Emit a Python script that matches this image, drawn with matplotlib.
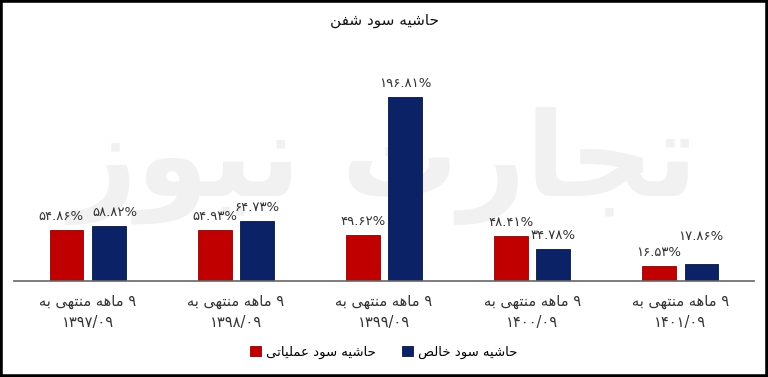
import numpy as np
import matplotlib
matplotlib.use("Agg")
import matplotlib.pyplot as plt
from matplotlib.patches import Rectangle

# داده‌ها
periods = ["۱۳۹۷/۰۹", "۱۳۹۸/۰۹", "۱۳۹۹/۰۹", "۱۴۰۰/۰۹", "۱۴۰۱/۰۹"]
operating_margin = [54.86, 54.93, 49.62, 48.41, 16.53]
net_margin = [58.82, 64.73, 196.81, 34.78, 17.86]
operating_labels = ["۵۴.۸۶%", "۵۴.۹۳%", "۴۹.۶۲%", "۴۸.۴۱%", "۱۶.۵۳%"]
net_labels = ["۵۸.۸۲%", "۶۴.۷۳%", "۱۹۶.۸۱%", "۳۴.۷۸%", "۱۷.۸۶%"]
period_prefix = "۹ ماهه منتهی به"
title = "حاشیه سود شفن"
legend_names = ["حاشیه سود عملیاتی", "حاشیه سود خالص"]
watermark = "تجارت نیوز"

# اشکال حروف (تنها، پایانی، آغازی، میانی)
FORMS = {
    "ا": ("\uFE8D", "\uFE8E", None, None),
    "ب": ("\uFE8F", "\uFE90", "\uFE91", "\uFE92"),
    "ت": ("\uFE95", "\uFE96", "\uFE97", "\uFE98"),
    "ج": ("\uFE9D", "\uFE9E", "\uFE9F", "\uFEA0"),
    "ح": ("\uFEA1", "\uFEA2", "\uFEA3", "\uFEA4"),
    "خ": ("\uFEA5", "\uFEA6", "\uFEA7", "\uFEA8"),
    "د": ("\uFEA9", "\uFEAA", None, None),
    "ر": ("\uFEAD", "\uFEAE", None, None),
    "ز": ("\uFEAF", "\uFEB0", None, None),
    "س": ("\uFEB1", "\uFEB2", "\uFEB3", "\uFEB4"),
    "ش": ("\uFEB5", "\uFEB6", "\uFEB7", "\uFEB8"),
    "ص": ("\uFEB9", "\uFEBA", "\uFEBB", "\uFEBC"),
    "ع": ("\uFEC9", "\uFECA", "\uFECB", "\uFECC"),
    "ف": ("\uFED1", "\uFED2", "\uFED3", "\uFED4"),
    "ل": ("\uFEDD", "\uFEDE", "\uFEDF", "\uFEE0"),
    "م": ("\uFEE1", "\uFEE2", "\uFEE3", "\uFEE4"),
    "ن": ("\uFEE5", "\uFEE6", "\uFEE7", "\uFEE8"),
    "ه": ("\uFEE9", "\uFEEA", "\uFEEB", "\uFEEC"),
    "و": ("\uFEED", "\uFEEE", None, None),
    "ی": ("\uFEEF", "\uFEF0", "\uFEF3", "\uFEF4"),
}


def shape_word(word):
    if not any(c in FORMS for c in word):
        return word
    out = []
    for i, c in enumerate(word):
        if c not in FORMS:
            out.append(c)
            continue
        prev = word[i - 1] if i > 0 else None
        nxt = word[i + 1] if i < len(word) - 1 else None
        jp = prev in FORMS and FORMS[prev][2] is not None
        jn = nxt in FORMS and FORMS[c][2] is not None
        iso, fin, ini, med = FORMS[c]
        if jp and jn:
            out.append(med)
        elif jp:
            out.append(fin)
        elif jn:
            out.append(ini)
        else:
            out.append(iso)
    return "".join(reversed(out))


def fa(text):
    # راست به چپ: ترتیب کلمات برعکس می‌شود
    words = [shape_word(w) for w in text.split(" ")]
    return " ".join(words[::-1])


plt.rcParams["font.family"] = ["DejaVu Sans"]

red = "#C00000"
navy = "#0B2266"

fig = plt.figure(figsize=(7.68, 3.77), dpi=100)
ax = fig.add_axes([0.018, 0.2546, 0.964, 0.612])

x = np.arange(len(periods))
w = 0.225
off = 0.142

# واترمارک
ax.text(0.5, 0.50, fa(watermark), transform=ax.transAxes,
        ha="center", va="center", fontsize=84, fontweight="bold",
        color="#f1f1f1", zorder=0)

b1 = ax.bar(x - off, operating_margin, w, color=red, edgecolor="#8a0000", linewidth=0.6, zorder=2)
b2 = ax.bar(x + off, net_margin, w, color=navy, edgecolor="#061540", linewidth=0.6, zorder=2)

for r1, r2, l1, l2 in zip(b1, b2, operating_labels, net_labels):
    h1, h2 = r1.get_height(), r2.get_height()
    dx, dy = 0, 0
    # جلوگیری از هم‌پوشانی برچسب‌ها
    if abs(h1 - h2) < 2:
        dy = 10
    elif abs(h1 - h2) < 8:
        dx = 4
    ax.annotate(l1, (r1.get_x() + r1.get_width() / 2, h1),
                xytext=(-dx, 5), textcoords="offset points", ha="center", va="bottom",
                fontsize=9.5, color="#333333", zorder=3)
    ax.annotate(l2, (r2.get_x() + r2.get_width() / 2, h2),
                xytext=(dx, 5 + dy), textcoords="offset points", ha="center", va="bottom",
                fontsize=9.5, color="#333333", zorder=3)

ax.set_xlim(-0.5, len(periods) - 0.5)
ax.set_ylim(0, 247)
ax.set_yticks([])
ax.set_xticks(x)
ax.set_xticklabels([fa(period_prefix) + "\n" + p for p in periods],
                   fontsize=10.5, color="#333333", linespacing=1.5)
ax.tick_params(axis="x", length=0, pad=9)
for s in ["top", "right", "left"]:
    ax.spines[s].set_visible(False)
ax.spines["bottom"].set_color("#666666")
ax.spines["bottom"].set_linewidth(1.2)

fig.suptitle(fa(title), y=0.965, fontsize=11, color="#111111")

ax.legend([b1, b2], [fa(n) for n in legend_names], loc="center",
          bbox_to_anchor=(0.5, 0.065), bbox_transform=fig.transFigure,
          ncol=2, frameon=False, fontsize=9.5, handlelength=0.8, handleheight=0.8,
          handletextpad=0.4, columnspacing=2.0)

# قاب بیرونی
fig.patches.append(Rectangle((0, 0), 1, 1, transform=fig.transFigure,
                             fill=False, edgecolor="black", linewidth=4))

fig.savefig("out.png", dpi=100)
